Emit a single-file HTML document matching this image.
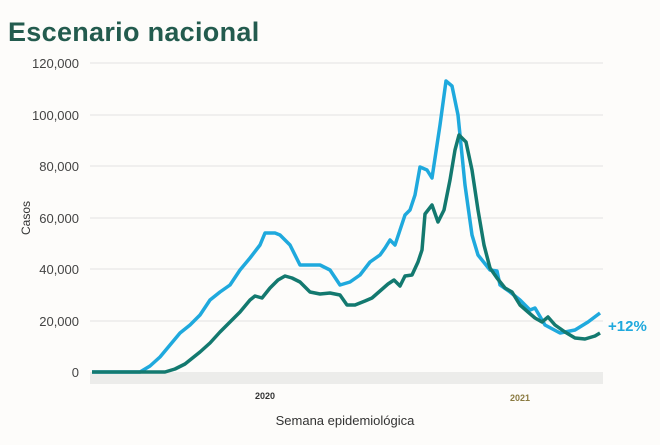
<!DOCTYPE html>
<html><head><meta charset="utf-8"><style>
body{margin:0;width:660px;height:440px;background:#fdfcfa;overflow:hidden;font-family:"Liberation Sans",sans-serif}
</style></head><body>
<svg width="660" height="440" xmlns="http://www.w3.org/2000/svg">
<rect width="660" height="440" fill="#fdfcfa"/>
<text x="8" y="41" font-size="27" font-weight="bold" fill="#235b4e" letter-spacing="0.3">Escenario nacional</text>
<g stroke="#e2e2e2" stroke-width="1">
<line x1="90" y1="63" x2="603" y2="63"/><line x1="90" y1="115" x2="603" y2="115"/>
<line x1="90" y1="166" x2="603" y2="166"/><line x1="90" y1="218" x2="603" y2="218"/>
<line x1="90" y1="269" x2="603" y2="269"/><line x1="90" y1="321" x2="603" y2="321"/>
</g>
<rect x="90" y="372" width="513" height="12" fill="#ececea"/>
<g font-size="13" fill="#444" text-anchor="end">
<text x="79" y="68">120,000</text><text x="79" y="120">100,000</text>
<text x="79" y="171">80,000</text><text x="79" y="223">60,000</text>
<text x="79" y="274">40,000</text><text x="79" y="326">20,000</text>
<text x="79" y="377">0</text></g>
<text x="30" y="218" font-size="12" fill="#333" transform="rotate(-90 30 218)" text-anchor="middle">Casos</text>
<text x="265" y="399" font-size="9" font-weight="bold" fill="#333" text-anchor="middle">2020</text>
<text x="520" y="401" font-size="9" font-weight="bold" fill="#8a7a40" text-anchor="middle">2021</text>
<text x="345" y="425" font-size="13" fill="#333" text-anchor="middle">Semana epidemiológica</text>
<polyline fill="none" stroke="#1fa9dd" stroke-width="3.5" stroke-linejoin="round" points="92,372 140,372 150,366 160,357 170,345 180,333 190,325 200,315 210,300 220,292 230,285 240,270 250,258 260,245 265,233 275,233 280,235 290,245 300,265 310,265 320,265 330,270 340,285 350,282 360,275 370,262 380,255 385,248 390,240 395,245 400,230 405,215 410,210 415,195 420,167 427,170 432,178 440,125 446,81 452,86 458,115 465,185 472,235 478,255 490,270 497,271 500,285 510,292 520,300 530,310 535,308 545,325 560,333 575,330 588,322 600,313"/>
<polyline fill="none" stroke="#13796f" stroke-width="3.5" stroke-linejoin="round" points="92,372 165,372 175,369 185,364 200,352 210,343 220,332 230,322 240,312 250,300 255,296 262,298 270,288 278,280 285,276 292,278 300,282 310,292 320,294 330,293 340,295 347,305 355,305 365,301 372,298 380,291 388,284 394,280 400,286 405,276 412,275 418,262 422,250 425,214 432,205 438,222 444,210 450,180 455,150 459,135 466,142 472,170 478,210 484,245 490,268 497,278 505,288 512,292 520,305 528,312 535,318 542,322 548,317 555,325 565,332 575,338 585,339 595,336 600,333"/>
<text x="608" y="331" font-size="15" font-weight="bold" fill="#1fa9dd">+12%</text>
</svg>
</body></html>
